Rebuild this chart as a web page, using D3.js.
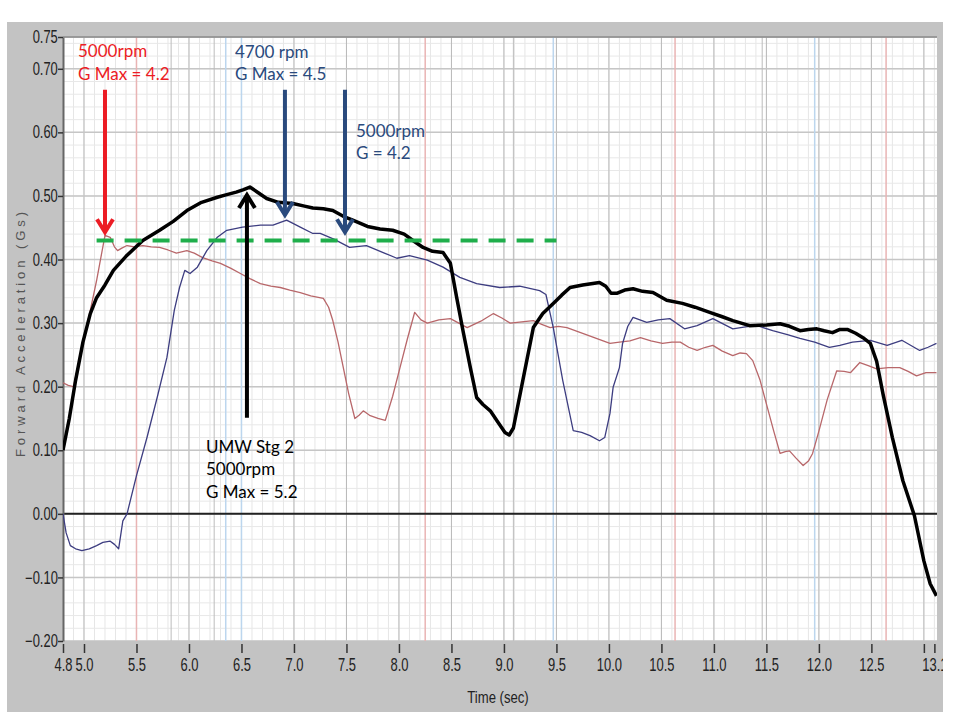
<!DOCTYPE html>
<html><head><meta charset="utf-8">
<script src="https://cdn.jsdelivr.net/npm/d3@7"></script>
<style>body{margin:0;background:#fff;}svg{display:block;}</style>
</head><body>
<script>
// ---------- data ----------
const umwTime = [4.80,4.86,4.92,4.99,5.06,5.12,5.20,5.28,5.40,5.56,5.72,5.85,5.98,6.12,6.27,6.36,6.45,6.52,6.58,6.66,6.74,6.85,6.99,7.10,7.18,7.28,7.37,7.47,7.56,7.70,7.82,7.94,8.05,8.15,8.23,8.32,8.42,8.49,8.55,8.61,8.68,8.74,8.80,8.87,8.94,9.01,9.05,9.09,9.18,9.28,9.37,9.47,9.55,9.63,9.75,9.91,9.97,10.02,10.08,10.15,10.23,10.32,10.42,10.55,10.70,10.82,10.96,11.08,11.18,11.34,11.50,11.63,11.72,11.82,11.90,11.98,12.05,12.13,12.20,12.27,12.35,12.42,12.49,12.55,12.61,12.70,12.80,12.91,13.00,13.06,13.12];
const umwG = [0.10,0.15,0.21,0.27,0.315,0.34,0.36,0.383,0.405,0.43,0.446,0.46,0.477,0.49,0.498,0.502,0.506,0.51,0.514,0.505,0.496,0.49,0.488,0.484,0.481,0.48,0.477,0.468,0.462,0.452,0.448,0.446,0.44,0.428,0.419,0.413,0.411,0.394,0.34,0.288,0.23,0.183,0.172,0.162,0.145,0.128,0.124,0.135,0.21,0.293,0.315,0.331,0.344,0.356,0.36,0.364,0.358,0.347,0.347,0.352,0.354,0.35,0.348,0.336,0.331,0.325,0.317,0.31,0.304,0.296,0.297,0.299,0.295,0.288,0.29,0.291,0.288,0.285,0.29,0.29,0.284,0.277,0.268,0.24,0.189,0.12,0.052,-0.003,-0.074,-0.11,-0.129];

const redTime = [4.80,4.85,4.90,4.96,5.06,5.12,5.20,5.25,5.29,5.32,5.36,5.41,5.48,5.56,5.64,5.72,5.80,5.88,5.98,6.05,6.13,6.22,6.30,6.40,6.49,6.58,6.68,6.78,6.87,6.96,7.06,7.16,7.28,7.33,7.37,7.42,7.47,7.52,7.58,7.62,7.66,7.72,7.80,7.87,7.94,8.01,8.08,8.15,8.21,8.27,8.38,8.49,8.57,8.65,8.78,8.90,8.98,9.06,9.17,9.28,9.36,9.44,9.52,9.60,9.75,9.88,10.01,10.10,10.20,10.30,10.40,10.51,10.60,10.68,10.76,10.84,10.92,10.99,11.08,11.18,11.25,11.31,11.37,11.44,11.50,11.57,11.63,11.68,11.72,11.78,11.85,11.90,11.94,12.00,12.08,12.17,12.24,12.30,12.39,12.47,12.55,12.66,12.77,12.85,12.93,13.02,13.12];
const redG = [0.206,0.202,0.20,0.246,0.32,0.367,0.438,0.435,0.42,0.414,0.418,0.422,0.42,0.422,0.42,0.419,0.415,0.41,0.414,0.41,0.403,0.398,0.394,0.386,0.378,0.37,0.362,0.358,0.356,0.352,0.348,0.343,0.339,0.325,0.304,0.27,0.23,0.19,0.15,0.155,0.162,0.155,0.15,0.147,0.185,0.23,0.275,0.317,0.305,0.30,0.305,0.307,0.30,0.293,0.303,0.315,0.308,0.30,0.302,0.304,0.298,0.293,0.295,0.293,0.284,0.276,0.268,0.27,0.272,0.277,0.272,0.268,0.27,0.27,0.262,0.257,0.262,0.265,0.256,0.249,0.253,0.252,0.241,0.21,0.173,0.13,0.095,0.098,0.099,0.088,0.076,0.083,0.095,0.13,0.18,0.225,0.224,0.222,0.238,0.233,0.228,0.23,0.23,0.224,0.217,0.222,0.222];

const blueTime = [4.80,4.83,4.87,4.92,4.98,5.05,5.12,5.18,5.25,5.29,5.33,5.37,5.41,5.50,5.60,5.70,5.79,5.86,5.91,5.96,6.01,6.08,6.17,6.27,6.36,6.51,6.68,6.80,6.93,7.06,7.18,7.25,7.38,7.53,7.69,7.85,7.98,8.10,8.27,8.42,8.58,8.74,8.96,9.15,9.34,9.40,9.47,9.56,9.66,9.74,9.82,9.91,9.96,10.01,10.04,10.10,10.13,10.18,10.23,10.36,10.47,10.58,10.72,10.84,10.99,11.12,11.18,11.30,11.41,11.56,11.70,11.82,11.96,12.10,12.20,12.32,12.49,12.65,12.79,12.96,13.04,13.12];
const blueG = [0.0,-0.03,-0.05,-0.055,-0.058,-0.055,-0.05,-0.045,-0.043,-0.048,-0.055,-0.011,0.0,0.06,0.12,0.185,0.246,0.32,0.356,0.383,0.378,0.388,0.414,0.435,0.446,0.451,0.454,0.454,0.462,0.451,0.441,0.441,0.432,0.419,0.422,0.411,0.402,0.406,0.399,0.388,0.372,0.362,0.356,0.358,0.351,0.345,0.293,0.21,0.131,0.128,0.123,0.115,0.12,0.158,0.199,0.23,0.268,0.295,0.309,0.301,0.305,0.307,0.291,0.296,0.307,0.296,0.291,0.294,0.296,0.288,0.282,0.276,0.27,0.262,0.265,0.27,0.273,0.265,0.273,0.257,0.262,0.268];

const yTicks = [-0.2,-0.1,0,0.1,0.2,0.3,0.4,0.5,0.6,0.7,0.75];
const xTicks = [4.8,5.0,5.5,6.0,6.5,7.0,7.5,8.0,8.5,9.0,9.5,10.0,10.5,11.0,11.5,12.0,12.5,13.0,13.1];
const xTickUnlabeled = [13.0];

const redMarkers = [5.5, 8.25, 10.63, 12.64];
const blueMarkers = [6.35, 6.5, 9.47, 11.96];
const grayMarkers = [5.83, 6.24, 9.09, 11.46];

const refLevel = 0.43, refStart = 5.12, refEnd = 9.5;

// annotations (data units)
const arrows = [
  {t:5.2,   from:0.667, to:0.443, color:"#ec1c24"},
  {t:6.914, from:0.667, to:0.470, color:"#2a4a7d"},
  {t:7.486, from:0.667, to:0.443, color:"#2a4a7d"},
  {t:6.552, from:0.151, to:0.5015, color:"#000000"}
];
const notes = [
  {t:4.943, g:0.7185, lines:["5000rpm","G Max = 4.2"], color:"#ec1c24"},
  {t:6.438, g:0.717,  lines:["4700 rpm","G Max = 4.5"], color:"#2a4a7d"},
  {t:7.590, g:0.5935, lines:["5000rpm","G = 4.2"], color:"#2a4a7d"},
  {t:6.162, g:0.0957, lines:["UMW Stg 2","5000rpm","G Max = 5.2"], color:"#000000"}
];

// ---------- drawing ----------
const W = 960, H = 720;
const svg = d3.select("body").append("svg").attr("width", W).attr("height", H);

const panel = {x0:7, y0:22, x1:943, y1:712};
const plot = {l:63, r:937, t:37, b:641};

svg.append("defs").append("clipPath").attr("id","panelClip")
  .append("rect").attr("x",panel.x0).attr("y",panel.y0)
  .attr("width",panel.x1-panel.x0).attr("height",panel.y1-panel.y0);
svg.append("defs").append("clipPath").attr("id","plotClip")
  .append("rect").attr("x",plot.l).attr("y",plot.t)
  .attr("width",plot.r-plot.l).attr("height",plot.b-plot.t);

const root = svg.append("g").attr("clip-path","url(#panelClip)");
root.append("rect").attr("x",panel.x0).attr("y",panel.y0)
  .attr("width",panel.x1-panel.x0).attr("height",panel.y1-panel.y0).attr("fill","#c3c3c3");

const x = d3.scaleLinear().domain([4.8, 13.125]).range([plot.l, plot.r]);
const y = d3.scaleLinear().domain([-0.2, 0.75]).range([plot.b, plot.t]);

root.append("rect").attr("x",plot.l).attr("y",plot.t)
  .attr("width",plot.r-plot.l).attr("height",plot.b-plot.t).attr("fill","#ffffff");

const grid = root.append("g").attr("clip-path","url(#plotClip)");
// minor grids
grid.selectAll(".vmin").data(d3.range(48, 132).map(d=>d/10)).join("line")
  .attr("x1",d=>x(d)).attr("x2",d=>x(d)).attr("y1",plot.t).attr("y2",plot.b)
  .attr("stroke","#e6e6e6").attr("stroke-width",1);
grid.selectAll(".hmin").data(d3.range(-10, 38).map(d=>d/50)).join("line")
  .attr("y1",d=>y(d)).attr("y2",d=>y(d)).attr("x1",plot.l).attr("x2",plot.r)
  .attr("stroke","#e8e8e8").attr("stroke-width",1);
// major grids
grid.selectAll(".vmaj").data(d3.range(10, 27).map(d=>d/2)).join("line")
  .attr("x1",d=>x(d)).attr("x2",d=>x(d)).attr("y1",plot.t).attr("y2",plot.b)
  .attr("stroke","#b9b9b9").attr("stroke-width",1);
grid.selectAll(".hmaj").data(yTicks).join("line")
  .attr("y1",d=>y(d)).attr("y2",d=>y(d)).attr("x1",plot.l).attr("x2",plot.r)
  .attr("stroke","#c6c6c6").attr("stroke-width",1.5);
// marker lines
grid.selectAll(".mg").data(grayMarkers).join("line")
  .attr("x1",d=>x(d)).attr("x2",d=>x(d)).attr("y1",plot.t).attr("y2",plot.b)
  .attr("stroke","#bcbcbc").attr("stroke-width",1);
grid.selectAll(".mr").data(redMarkers).join("line")
  .attr("x1",d=>x(d)).attr("x2",d=>x(d)).attr("y1",plot.t).attr("y2",plot.b)
  .attr("stroke","#e9b4b4").attr("stroke-width",1.5);
grid.selectAll(".mb").data(blueMarkers).join("line")
  .attr("x1",d=>x(d)).attr("x2",d=>x(d)).attr("y1",plot.t).attr("y2",plot.b)
  .attr("stroke","#bcd6ee").attr("stroke-width",1.5);

// zero line
grid.append("line").attr("x1",plot.l).attr("x2",plot.r).attr("y1",y(0)).attr("y2",y(0))
  .attr("stroke","#222").attr("stroke-width",2);

// plot frame (top)
root.append("line").attr("x1",plot.l).attr("x2",plot.r).attr("y1",plot.t).attr("y2",plot.t)
  .attr("stroke","#8a8a8a").attr("stroke-width",1.5);

// axes
const tickFont = "'Liberation Sans',Arial,sans-serif";
const squeeze = "scale(0.74,1)";
const yAxis = root.append("g").attr("transform",`translate(${plot.l},0)`)
  .call(d3.axisLeft(y).tickValues(yTicks).tickFormat(d3.format(".2f")).tickSize(5).tickPadding(2).tickSizeOuter(0));
yAxis.select(".domain").attr("stroke","#666").attr("stroke-width",2);
yAxis.selectAll(".tick line").attr("stroke","#333").attr("stroke-width",1.5);
yAxis.selectAll("text").attr("font-family",tickFont).attr("font-size",17.5).attr("fill","#222")
  .attr("transform",squeeze);

const xAxis = root.append("g").attr("transform",`translate(0,${plot.b+3})`)
  .call(d3.axisBottom(x).tickValues(xTicks)
    .tickFormat(d => xTickUnlabeled.includes(d) ? "" : d3.format(".1f")(d))
    .tickSize(9).tickPadding(6).tickSizeOuter(0));
xAxis.select(".domain").remove();
xAxis.selectAll(".tick line").attr("stroke","#333").attr("stroke-width",1.5);
xAxis.selectAll("text").attr("font-family",tickFont).attr("font-size",17.5).attr("fill","#222")
  .attr("transform",squeeze);

// axis titles
root.append("text").attr("transform",`translate(25,${(212+457)/2}) rotate(-90)`)
  .attr("text-anchor","middle").attr("font-family","'Liberation Sans',Arial,sans-serif")
  .attr("font-size",13).attr("fill","#555").attr("textLength",245).attr("lengthAdjust","spacing")
  .text("Forward Acceleration (Gs)");
root.append("g").attr("transform",`translate(${(plot.l+plot.r)/2 - 2},703)`)
  .append("text").attr("transform","scale(0.82,1)")
  .attr("text-anchor","middle").attr("font-family",tickFont)
  .attr("font-size",16).attr("fill","#222").text("Time (sec)");

// series
const lineGen = d3.line().x(d=>x(d[0])).y(d=>y(d[1]));
const series = [
  {t:redTime, g:redG, color:"#b8676a", w:1.3},
  {t:blueTime, g:blueG, color:"#3d3d80", w:1.3},
  {t:umwTime, g:umwG, color:"#000000", w:3.5}
];
const lines = root.append("g").attr("clip-path","url(#plotClip)");
series.forEach(s => {
  lines.append("path").datum(s.t.map((t,i)=>[t, s.g[i]]))
    .attr("d", lineGen).attr("fill","none").attr("stroke", s.color)
    .attr("stroke-width", s.w).attr("stroke-linejoin","round");
});

// green dashed reference
root.append("line").attr("x1",x(refStart)).attr("x2",x(refEnd)).attr("y1",y(refLevel)).attr("y2",y(refLevel))
  .attr("stroke","#1fae4b").attr("stroke-width",4).attr("stroke-dasharray","17,11");

// arrows
const ann = root.append("g");
arrows.forEach(a => {
  const ax = x(a.t), y0 = y(a.from), y1 = y(a.to);
  const dir = y1 > y0 ? 1 : -1;
  ann.append("line").attr("x1",ax).attr("x2",ax).attr("y1",y0).attr("y2",y1 - dir*2)
    .attr("stroke",a.color).attr("stroke-width",4);
  ann.append("path")
    .attr("d",`M${ax-8},${y1 - dir*13} L${ax},${y1} L${ax+8},${y1 - dir*13}`)
    .attr("fill","none").attr("stroke",a.color).attr("stroke-width",4)
    .attr("stroke-linejoin","miter").attr("stroke-linecap","butt");
});

// notes
notes.forEach(n => {
  const tx = ann.append("text").attr("x",x(n.t)).attr("y",y(n.g))
    .attr("font-family","Lato,'Open Sans',sans-serif").attr("font-size",17).attr("fill",n.color);
  n.lines.forEach((l,i) => tx.append("tspan").attr("x",x(n.t)).attr("dy", i===0?0:22.5).text(l));
});
</script>
</body></html>
